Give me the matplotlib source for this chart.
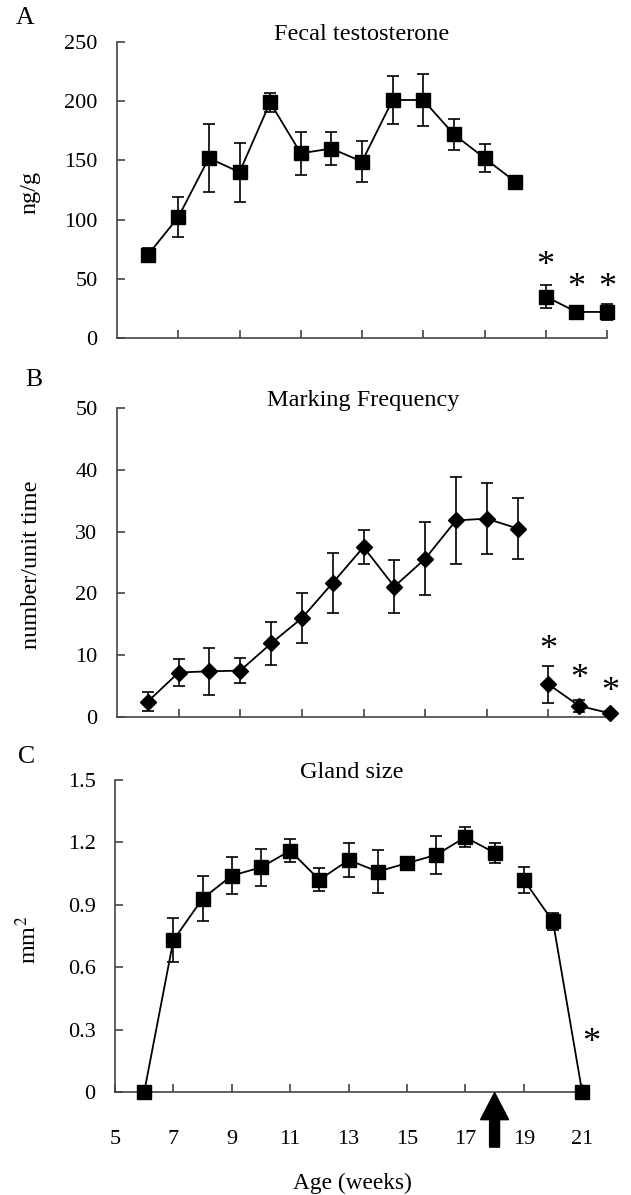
import numpy as np
import matplotlib
matplotlib.use("Agg")
import matplotlib.pyplot as plt
from matplotlib.patches import FancyArrow

plt.rcParams['font.family'] = ['Liberation Serif', 'DejaVu Serif']
plt.rcParams['mathtext.fontset'] = 'stix'

# ---- data ----
weeks = [6, 7, 8, 9, 10, 11, 12, 13, 14, 15, 16, 17, 18, 19, 20, 21]

testo = [70, 102, 152, 140, 199, 156, 160, 149, 201, 201, 172, 152, 132, 35, 22, 22]
testo_err = [6, 17, 29, 25, 8, 18, 14, 17, 20, 22, 13, 12, 4, 10, 3, 7]

marking = [2.5, 7.2, 7.4, 7.5, 11.9, 16.0, 21.7, 27.5, 21.1, 25.6, 31.8, 32.1, 30.5, 5.3, 1.8, 0.6]
marking_err = [1.5, 2.2, 3.8, 2.0, 3.5, 4.0, 4.9, 2.8, 4.3, 5.9, 7.0, 5.7, 4.9, 3.0, 1.0, 0.3]

gland = [0, 0.73, 0.93, 1.04, 1.08, 1.16, 1.02, 1.115, 1.06, 1.10, 1.14, 1.225, 1.15, 1.02, 0.82, 0]
gland_err = [0, 0.105, 0.11, 0.09, 0.09, 0.055, 0.055, 0.083, 0.104, 0.02, 0.093, 0.047, 0.047, 0.063, 0.04, 0]

break_after_week = 18          # line is interrupted between week 18 and 19
castration_week = 18           # arrow

stars_A_x = [19, 20, 21]
stars_A_y = [60, 42, 42]
stars_B_x = [19, 20, 21]
stars_B_y = [10.8, 6.0, 3.9]
stars_C_x = [21.3]
stars_C_y = [0.235]

titles = ["Fecal testosterone", "Marking Frequency", "Gland size"]
ylabels = ["ng/g", "number/unit time", "mm$^2$"]
panel_letters = ["A", "B", "C"]

FS = 16
FS_T = 17.5
W, H = 631, 1195
fig = plt.figure(figsize=(W / 100, H / 100), dpi=100)

def fr(l, r, t, b):
    return [l / W, 1 - b / H, (r - l) / W, (b - t) / H]

axA = fig.add_axes(fr(117, 607, 42, 338))
axB = fig.add_axes(fr(117, 610, 408, 717))
axC = fig.add_axes(fr(115, 588, 780, 1092))

wk = np.array(weeks)
split = int(np.searchsorted(wk, break_after_week, side='right'))

def draw(ax, vals, errs, marker, ms):
    v = np.array(vals, dtype=float)
    e = np.array(errs, dtype=float)
    for sl in (slice(0, split), slice(split, None)):
        ax.plot(wk[sl], v[sl], color='black', lw=1.3, zorder=2, clip_on=False)
    ax.errorbar(wk, v, yerr=e, fmt='none', ecolor='black', elinewidth=1.2,
                capsize=4, capthick=1.2, zorder=3, clip_on=False)
    ax.plot(wk, v, ls='none', marker=marker, ms=ms, color='black',
            zorder=4, clip_on=False)

draw(axA, testo, testo_err, 's', 9.5)
draw(axB, marking, marking_err, 'D', 8.5)
draw(axC, gland, gland_err, 's', 9.5)

axA.set_ylim(0, 250)
axA.set_yticks([0, 50, 100, 150, 200, 250])
axB.set_ylim(0, 50)
axB.set_yticks([0, 10, 20, 30, 40, 50])
axC.set_ylim(0, 1.5)
axC.set_yticks([0, 0.3, 0.6, 0.9, 1.2, 1.5])
axC.set_yticklabels(["0", "0.3", "0.6", "0.9", "1.2", "1.5"])

for ax in (axA, axB):
    ax.set_xlim(5, 21)
    ax.set_xticks([7, 9, 11, 13, 15, 17, 19, 21])
    ax.set_xticklabels([])
axC.set_xlim(5, 21.2)
axC.set_xticks([5, 7, 9, 11, 13, 15, 17, 19, 21])

for ax, t in zip((axA, axB, axC), titles):
    for s in ('top', 'right'):
        ax.spines[s].set_visible(False)
    for s in ('left', 'bottom'):
        ax.spines[s].set_color('#444444')
        ax.spines[s].set_linewidth(1.2)
    ax.tick_params(direction='in', length=6, width=1.2, color='#444444',
                   labelsize=FS, pad=8)
    ax.tick_params(axis='y', pad=14)
    ax.text(0.5, 1.025, t, transform=ax.transAxes, ha='center', va='center',
            fontsize=FS_T)
axC.tick_params(axis='x', pad=27)

for x, y in zip(stars_A_x, stars_A_y):
    axA.text(x, y, '*', ha='center', va='center', fontsize=26, clip_on=False)
for x, y in zip(stars_B_x, stars_B_y):
    axB.text(x, y, '*', ha='center', va='center', fontsize=26, clip_on=False)
for x, y in zip(stars_C_x, stars_C_y):
    axC.text(x, y, '*', ha='center', va='center', fontsize=26, clip_on=False)

arr = FancyArrow(castration_week, -0.265, 0, 0.262, width=0.34, head_width=0.96,
                 head_length=0.13, length_includes_head=True, color='black',
                 clip_on=False, zorder=5)
axC.add_patch(arr)

# y labels and panel letters
fig.text(30 / W, 1 - 192 / H, ylabels[0], rotation=90, ha='center', va='center', fontsize=FS_T)
fig.text(32 / W, 1 - 565 / H, ylabels[1], rotation=90, ha='center', va='center', fontsize=FS_T)
fig.text(28 / W, 1 - 940 / H, ylabels[2], rotation=90, ha='center', va='center', fontsize=FS_T)
fig.text(25 / W, 1 - 18 / H, panel_letters[0], ha='center', va='center', fontsize=FS_T + 1)
fig.text(34 / W, 1 - 380 / H, panel_letters[1], ha='center', va='center', fontsize=FS_T + 1)
fig.text(27 / W, 1 - 757 / H, panel_letters[2], ha='center', va='center', fontsize=FS_T + 1)
fig.text(352 / W, 1 - 1183 / H, "Age (weeks)", ha='center', va='center', fontsize=16.8)

fig.savefig("out.png", dpi=100)
